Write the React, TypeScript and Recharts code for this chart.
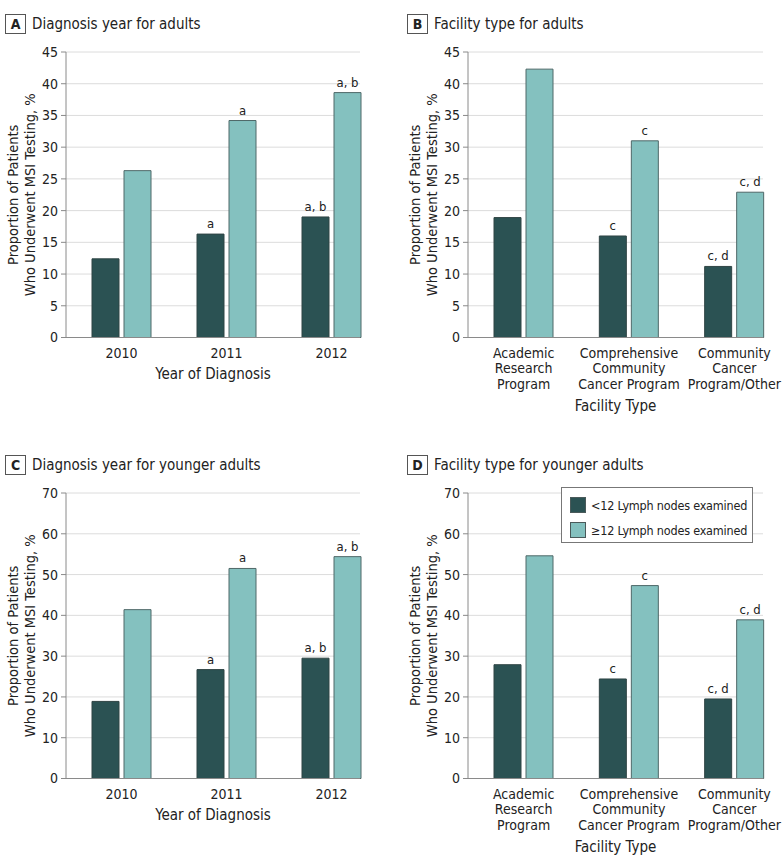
import React from 'react';
import { BarChart, Bar, XAxis, YAxis, CartesianGrid, LabelList } from 'recharts';

const FONT = '"Liberation Sans Narrow", "DejaVu Sans Condensed", Roboto, sans-serif';
const DARK = '#2b5253';
const LIGHT = '#84c1bf';
const TEXT = '#222';

// categories
const yearCats = ['2010', '2011', '2012'];
const facilityCats = [
  'Academic\nResearch\nProgram',
  'Comprehensive\nCommunity\nCancer Program',
  'Community\nCancer\nProgram/Other',
];

// A: diagnosis year, adults
const adultYearUnder = [12.4, 16.3, 19.0];
const adultYearOver = [26.3, 34.2, 38.6];
// B: facility type, adults
const adultFacUnder = [18.9, 16.0, 11.2];
const adultFacOver = [42.3, 31.0, 22.9];
// C: diagnosis year, younger adults
const youngYearUnder = [18.9, 26.7, 29.5];
const youngYearOver = [41.4, 51.5, 54.4];
// D: facility type, younger adults
const youngFacUnder = [27.9, 24.4, 19.5];
const youngFacOver = [54.6, 47.3, 38.9];

// significance notes above bars
const yearNotes = ['', 'a', 'a, b'];
const facNotes = ['', 'c', 'c, d'];

const ticks45 = [0, 5, 10, 15, 20, 25, 30, 35, 40, 45];
const ticks70 = [0, 10, 20, 30, 40, 50, 60, 70];

const legendItems = ['<12 Lymph nodes examined', '≥12 Lymph nodes examined'];

const build = (cats: string[], under: number[], over: number[], notes: string[]) =>
  cats.map((c, i) => ({ cat: c, under: under[i], over: over[i], note: notes[i] }));

const CatTick = (props: any) => {
  const { x, y, payload } = props;
  const lines = String(payload.value).split('\n');
  return (
    <text x={x} y={y} textAnchor="middle" fill={TEXT} fontSize={14} fontFamily={FONT}>
      {lines.map((l, i) => (
        <tspan key={i} x={x} dy={i === 0 ? 12 : 15.5}>
          {l}
        </tspan>
      ))}
    </text>
  );
};

const YTitle = (props: any) => {
  const vb = props.viewBox || { y: 52, height: 285 };
  const cy = vb.y + vb.height / 2;
  return (
    <g fontFamily={FONT} fontSize={14.5} fill={TEXT}>
      <text x={13} y={cy} transform={`rotate(-90, 13, ${cy})`} textAnchor="middle" dominantBaseline="central">
        Proportion of Patients
      </text>
      <text x={30} y={cy} transform={`rotate(-90, 30, ${cy})`} textAnchor="middle" dominantBaseline="central">
        Who Underwent MSI Testing, %
      </text>
    </g>
  );
};

const XTitle = (text: string, dy: number) => (props: any) => {
  const vb = props.viewBox;
  return (
    <text
      x={vb.x + vb.width / 2}
      y={vb.y + dy}
      textAnchor="middle"
      dominantBaseline="central"
      fontFamily={FONT}
      fontSize={15}
      fill={TEXT}
    >
      {text}
    </text>
  );
};

interface PanelProps {
  letter: string;
  title: string;
  data: any[];
  ticks: number[];
  max: number;
  xTitle: string;
  xTitleDy: number;
  left: number;
  top: number;
  width: number;
  plotRight: number;
}

const Panel: React.FC<PanelProps> = ({ letter, title, data, ticks, max, xTitle, xTitleDy, left, top, width, plotRight }) => (
  <div style={{ position: 'absolute', left, top, width, height: 424 }}>
    <div style={{ position: 'absolute', left: 5, top: 14, display: 'flex', alignItems: 'center', fontFamily: FONT, color: TEXT }}>
      <div
        style={{
          border: '1px solid #555',
          width: 19,
          height: 18,
          lineHeight: '18px',
          textAlign: 'center',
          fontWeight: 'bold',
          fontSize: 14,
        }}
      >
        {letter}
      </div>
      <div style={{ marginLeft: 6, fontSize: 15 }}>{title}</div>
    </div>
    <BarChart
      width={width}
      height={424}
      data={data}
      margin={{ top: 52, right: width - plotRight, bottom: 16.5, left: 0 }}
      barGap={5}
      barSize={27}
    >
      <CartesianGrid vertical={false} stroke="#dcdcdc" />
      <XAxis
        dataKey="cat"
        tick={<CatTick />}
        tickLine={false}
        axisLine={{ stroke: '#8a8a8a' }}
        interval={0}
        height={70}
        padding={{ left: 3, right: -24 }}
        label={{ content: XTitle(xTitle, xTitleDy) }}
      />
      <YAxis
        width={66}
        domain={[0, max]}
        ticks={ticks}
        interval={0}
        tickSize={5}
        tickMargin={3}
        tick={{ fill: TEXT, fontSize: 14, fontFamily: FONT }}
        axisLine={{ stroke: '#8a8a8a' }}
        tickLine={{ stroke: '#8a8a8a' }}
        label={{ content: <YTitle /> }}
      />
      <Bar dataKey="under" fill={DARK} stroke="#2f4444" strokeWidth={1} isAnimationActive={false}>
        <LabelList dataKey="note" position="top" offset={6} fill={TEXT} fontSize={13} fontFamily={FONT} />
      </Bar>
      <Bar dataKey="over" fill={LIGHT} stroke="#4f6868" strokeWidth={1} isAnimationActive={false}>
        <LabelList dataKey="note" position="top" offset={6} fill={TEXT} fontSize={13} fontFamily={FONT} />
      </Bar>
    </BarChart>
  </div>
);

const Legend = () => (
  <div
    style={{
      position: 'absolute',
      left: 561,
      top: 487,
      width: 192,
      height: 56,
      border: '1px solid #777',
      background: '#fff',
      fontFamily: FONT,
      fontSize: 12.5,
      color: TEXT,
      boxSizing: 'border-box',
    }}
  >
    {legendItems.map((t, i) => (
      <div
        key={t}
        style={{ position: 'absolute', left: 8, top: 9 + i * 25, display: 'flex', alignItems: 'center', whiteSpace: 'nowrap' }}
      >
        <div
          style={{
            width: 16,
            height: 16,
            background: i === 0 ? DARK : LIGHT,
            border: '1px solid #4a5a5a',
            boxSizing: 'border-box',
          }}
        />
        <span style={{ marginLeft: 5, letterSpacing: -0.2 }}>{t}</span>
      </div>
    ))}
  </div>
);

export default function App() {
  return (
    <div style={{ position: 'absolute', left: 0, top: 0, width: 783, height: 864, background: '#fff' }}>
      <Panel
        letter="A"
        title="Diagnosis year for adults"
        data={build(yearCats, adultYearUnder, adultYearOver, yearNotes)}
        ticks={ticks45}
        max={45}
        xTitle="Year of Diagnosis"
        xTitleDy={36}
        left={0}
        top={0}
        width={390}
        plotRight={360}
      />
      <Panel
        letter="B"
        title="Facility type for adults"
        data={build(facilityCats, adultFacUnder, adultFacOver, facNotes)}
        ticks={ticks45}
        max={45}
        xTitle="Facility Type"
        xTitleDy={68}
        left={402}
        top={0}
        width={381}
        plotRight={361}
      />
      <Panel
        letter="C"
        title="Diagnosis year for younger adults"
        data={build(yearCats, youngYearUnder, youngYearOver, yearNotes)}
        ticks={ticks70}
        max={70}
        xTitle="Year of Diagnosis"
        xTitleDy={36}
        left={0}
        top={441}
        width={390}
        plotRight={360}
      />
      <Panel
        letter="D"
        title="Facility type for younger adults"
        data={build(facilityCats, youngFacUnder, youngFacOver, facNotes)}
        ticks={ticks70}
        max={70}
        xTitle="Facility Type"
        xTitleDy={68}
        left={402}
        top={441}
        width={381}
        plotRight={361}
      />
      <Legend />
    </div>
  );
}
